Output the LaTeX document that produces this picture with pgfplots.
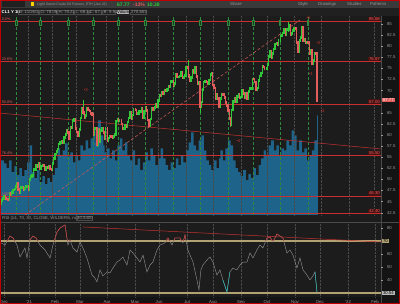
\documentclass[border=0pt]{standalone}
\usepackage{pgfplots}
\pgfplotsset{compat=1.18}
\usepackage{pgfplotstable}
\usepackage{fontspec}
\setmainfont{Liberation Sans}
\definecolor{bgall}{HTML}{141414}
\definecolor{panel}{HTML}{1C1C1C}
\definecolor{toolbar}{HTML}{3A3A3A}
\definecolor{rowtwo}{HTML}{202020}
\definecolor{volblue}{HTML}{1E6389}
\definecolor{upgreen}{HTML}{30C838}
\definecolor{dnred}{HTML}{E35D5D}
\definecolor{lvlred}{HTML}{C83030}
\definecolor{tickgrey}{HTML}{9A9A9A}
\definecolor{rsigrey}{HTML}{8C8C8C}
\definecolor{band}{HTML}{B0A272}
\definecolor{rsiteal}{HTML}{22B5B5}
\definecolor{evgreen}{HTML}{2E8B3E}
\definecolor{gridgrey}{HTML}{4A4A4A}
\newcommand\tf{\fontsize{4.3}{5}\selectfont}

\pgfplotstableread{
i o c
0 44.30 44.55
1 44.55 45.28
2 45.28 45.64
3 45.64 46.26
7 45.52 46.78
9 46.57 46.99
10 46.99 47.62
11 47.62 47.82
12 47.82 48.36
13 48.36 49.10
16 47.02 48.12
17 48.12 48.23
19 47.62 48.00
20 48.00 48.40
21 48.40 48.52
23 47.62 49.93
24 49.93 50.63
25 50.63 50.83
26 50.83 52.24
27 52.24 52.25
28 52.25 53.21
30 52.91 53.57
32 52.36 52.98
33 52.98 53.24
36 52.27 52.77
38 52.61 52.85
41 52.20 53.55
42 53.55 54.76
43 54.76 55.69
44 55.69 56.23
45 56.23 56.85
46 56.85 57.97
47 57.97 58.36
48 58.36 58.68
50 58.24 59.47
51 59.47 60.05
52 60.05 61.14
55 59.24 61.70
57 61.67 63.22
58 63.22 63.53
62 59.75 61.28
63 61.28 63.83
64 63.83 66.09
67 64.01 64.44
68 64.44 66.02
74 60.00 61.42
75 61.42 61.55
77 57.76 61.18
79 58.56 60.97
80 60.97 61.56
83 59.16 61.45
85 58.65 59.33
86 59.33 59.77
89 59.32 59.70
90 59.70 60.18
91 60.18 63.15
92 63.15 63.46
94 63.13 63.38
97 61.35 61.43
98 61.43 62.14
100 61.91 62.94
101 62.94 63.86
102 63.86 65.01
104 63.58 64.49
105 64.49 65.69
108 64.71 64.90
109 64.90 65.28
110 65.28 65.28
111 65.28 66.08
113 63.82 65.37
114 65.37 66.27
118 62.05 63.58
119 63.58 66.05
121 65.76 66.21
122 66.21 66.85
124 66.32 67.72
125 67.72 68.83
127 68.81 69.62
129 69.23 70.05
131 69.96 70.29
132 70.29 70.91
134 70.88 72.12
135 72.12 72.15
137 71.04 71.64
138 71.64 73.66
140 73.06 73.08
141 73.08 73.30
142 73.30 74.05
144 72.91 72.98
145 72.98 73.47
146 73.47 75.23
150 72.20 72.94
151 72.94 74.56
153 74.10 75.25
156 71.65 71.81
158 66.42 67.42
159 67.42 70.30
160 70.30 71.91
161 71.91 72.07
164 71.65 72.39
165 72.39 73.62
166 73.62 73.95
170 68.15 69.09
173 66.48 68.29
174 68.29 69.25
182 62.32 65.64
183 65.64 67.54
184 67.54 68.36
186 67.42 68.74
187 68.74 69.21
189 68.50 68.59
190 68.59 69.99
193 68.35 69.30
195 68.14 69.72
196 69.72 70.45
197 70.45 70.46
198 70.46 72.61
202 70.29 70.56
203 70.56 72.23
204 72.23 73.30
205 73.30 73.98
206 73.98 75.45
209 74.83 75.03
210 75.03 75.88
211 75.88 77.62
212 77.62 78.93
214 77.43 78.30
215 78.30 79.35
216 79.35 80.52
217 80.52 80.64
219 80.44 81.31
220 81.31 82.28
221 82.28 82.44
222 82.44 82.96
223 82.96 83.87
225 82.50 83.76
226 83.76 83.76
227 83.76 84.65
229 82.66 82.81
230 82.81 83.57
231 83.57 84.05
235 78.81 81.27
236 81.27 81.93
237 81.93 84.15
239 81.34 81.59
241 80.79 80.88
244 78.36 79.01
246 76.10 76.75
247 76.75 78.50
}\uptab

\pgfplotstableread{
i o c
4 46.26 45.76
5 45.76 45.60
6 45.60 45.52
8 46.78 46.57
14 49.10 47.74
15 47.74 47.02
18 48.23 47.62
22 48.52 47.62
29 53.21 52.91
31 53.57 52.36
34 53.24 53.13
35 53.13 52.27
37 52.77 52.61
39 52.85 52.34
40 52.34 52.20
49 58.68 58.24
53 61.14 60.52
54 60.52 59.24
56 61.70 61.67
59 63.53 61.50
60 61.50 60.64
61 60.64 59.75
65 66.09 65.05
66 65.05 64.01
69 66.02 65.61
70 65.61 65.39
71 65.39 64.80
72 64.80 64.60
73 64.60 60.00
76 61.55 57.76
78 61.18 58.56
81 61.56 60.55
82 60.55 59.16
84 61.45 58.65
87 59.77 59.60
88 59.60 59.32
93 63.46 63.13
95 63.38 62.44
96 62.44 61.35
99 62.14 61.91
103 65.01 63.58
106 65.69 65.63
107 65.63 64.71
112 66.08 63.82
115 66.27 65.49
116 65.49 63.36
117 63.36 62.05
120 66.05 65.76
123 66.85 66.32
126 68.83 68.81
128 69.62 69.23
130 70.05 69.96
133 70.91 70.88
136 72.15 71.04
139 73.66 73.06
143 74.05 72.91
147 75.23 75.16
148 75.16 73.37
149 73.37 72.20
152 74.56 74.10
154 75.25 73.13
155 73.13 71.65
157 71.81 66.42
162 72.07 71.91
163 71.91 71.65
167 73.95 71.26
168 71.26 70.56
169 70.56 68.15
171 69.09 68.28
172 68.28 66.48
175 69.25 69.09
176 69.09 68.44
177 68.44 67.29
178 67.29 66.59
179 66.59 65.46
180 65.46 63.69
181 63.69 62.32
185 68.36 67.42
188 69.21 68.50
191 69.99 69.29
192 69.29 68.35
194 69.30 68.14
199 72.61 72.61
200 72.61 71.97
201 71.97 70.29
207 75.45 75.29
208 75.29 74.83
213 78.93 77.43
218 80.64 80.44
224 83.87 82.50
228 84.65 82.66
232 84.05 83.91
233 83.91 80.86
234 80.86 78.81
238 84.15 81.34
240 81.59 80.79
242 80.88 80.76
243 80.76 78.36
245 79.01 76.10
248 78.50 78.39
249 78.39 67.77
}\dntab

\pgfplotstableread{
i l h
65 64.50 67.98
76 57.30 61.60
148 72.90 76.98
157 65.01 71.90
181 61.74 63.90
226 83.20 85.41
249 67.40 78.40
}\wicktab

\pgfplotstableread{
x v
0 275
3 260
5 235
7 275
9 215
11 245
13 200
15 235
17 195
19 225
21 265
23 350
25 215
27 185
29 225
31 165
33 195
35 155
37 185
39 165
41 200
43 235
45 335
47 300
49 325
51 360
53 295
55 315
57 265
59 300
61 275
63 350
65 325
67 375
69 335
71 385
73 425
75 365
77 475
79 400
81 350
82 315
84 335
86 285
88 325
90 275
92 350
94 385
96 325
98 365
100 300
102 275
104 325
106 250
108 285
110 225
112 265
114 315
116 275
118 335
120 300
122 250
124 285
126 335
128 285
130 250
132 225
134 265
136 235
138 285
140 250
142 300
144 265
146 325
148 365
150 415
152 350
154 325
156 375
158 400
160 325
162 275
164 250
166 225
168 275
170 235
172 285
173 325
175 275
177 335
179 375
181 350
183 275
185 235
187 215
189 195
191 225
193 175
195 205
197 185
199 235
201 200
203 250
205 285
207 325
209 300
211 350
213 375
215 325
217 350
219 300
221 335
223 325
225 375
227 350
229 425
231 400
233 325
235 375
237 315
239 335
241 275
243 300
245 325
247 375
249 500
249.7 500
}\voltab

\pgfplotstableread{
x r
0.5 68.5
3.7 66.9
7.6 73.8
10 72.3
13.1 66.9
15.5 57.7
19.4 64.6
21 56.9
23.3 70.8
25.7 73.8
28.1 72.3
31.2 66.9
35.1 63.1
39.1 56.9
41.4 66.9
44.6 76.9
47 80
50.9 82.3
53.2 66.9
54.8 70.8
57.1 64.6
60.3 61.5
62.6 69.2
65 64.6
68.1 56.9
72.1 43.8
74.4 41.5
76 38.5
78.4 47.7
80.7 43.1
83.9 46.2
86.2 45.4
88.6 49.2
91.7 53.8
94.1 55.4
96.4 57.7
99.6 51.5
102 63.1
104.3 60.8
107.4 56.9
109.8 53.8
112.2 59.2
115.3 46.2
117.7 51.5
120 53.8
123.2 63.1
125.5 66.9
129.4 68.5
131.8 72.3
135 66.9
137.3 72.3
141.2 72.3
143.6 68.5
145.2 74.6
147.5 63.1
149.1 59.2
151.5 53.8
154.6 40
156.2 32.3
157.7 47.7
159.3 51.5
162.5 55.4
164.8 57.7
167.2 53.8
170.3 43.8
172.7 47.7
175 40
178.2 30.8
180.5 46.2
182.9 49.2
186 47.7
188.4 51.5
190.8 53.8
193.9 53.8
196.3 60.8
198.6 56.9
201.8 63.1
204.1 66.9
206.5 64.6
209.6 72.3
212 73.1
214.3 69.2
217.5 75.4
219.8 73.8
222.2 72.3
225.3 60.8
227.7 63.1
230.1 59.2
233.2 49.2
235.6 56.9
238 47.7
241.1 43.8
243.4 40
245.8 43.1
247.4 46.2
249 30.54
}\rsitab

\begin{document}
\begin{tikzpicture}
\begin{scope}[x=1pt,y=1pt]
% window background
\fill[bgall] (0,0) rectangle (400,304);
\fill[toolbar] (0,295.5) rectangle (400,304);
\fill[rowtwo] (0,288) rectangle (400,295.5);
\fill[panel] (1,89) rectangle (381,288);
\fill[panel] (1,7) rectangle (381,89);
\fill[bgall] (381,1) rectangle (399,288);
\draw[gridgrey, line width=0.4pt] (1,82) -- (399,82);
\draw[gridgrey, line width=0.4pt] (381,1) -- (381,288);
% toolbar text
\fill[rowtwo] (1.5,297) rectangle (25,302.5);
\fill[yellow!70!orange] (31,297.5) rectangle (34,302);
\node[anchor=west, inner sep=0, font=\fontsize{3.5}{4}\selectfont, text=tickgrey] at (37,299.7) {Light Sweet Crude Oil Futures, ETH (Jan 22)};
\node[anchor=west, inner sep=0, font=\fontsize{5}{6}\selectfont\bfseries, text=upgreen] at (117,299.7) {67.77};
\node[anchor=west, inner sep=0, font=\fontsize{5}{6}\selectfont\bfseries, text=dnred] at (133,299.7) {-13\%};
\node[anchor=west, inner sep=0, font=\fontsize{5}{6}\selectfont\bfseries, text=upgreen] at (147,299.7) {10.38};
\node[anchor=west, inner sep=0, font=\tf, text=tickgrey] at (230,299.7) {Share};
\node[anchor=west, inner sep=0, font=\tf, text=tickgrey] at (298,299.7) {Style};
\node[anchor=west, inner sep=0, font=\tf, text=tickgrey] at (318,299.7) {Drawings};
\node[anchor=west, inner sep=0, font=\tf, text=tickgrey] at (347,299.7) {Studies};
\node[anchor=west, inner sep=0, font=\tf, text=tickgrey] at (370,299.7) {Patterns};
% second row
\node[anchor=west, inner sep=0, font=\tf\bfseries, text=white] at (1.5,291.7) {CL1 Y 1D};
\foreach \xa/\xb/\t in {18/38/{D: 11/26/21},39.5/56/{O: 78.09},57.5/73/{H: 78.22},74.5/87/{L: 68.31},88.5/101/{C: 67.77},102.5/115/{R: 9.91},130/146/{270,653}}{
  \draw[gridgrey, line width=0.3pt] (\xa,289.5) rectangle (\xb,294);
  \node[anchor=west, inner sep=0, font=\tf, text=tickgrey] at (\xa+1,291.7) {\t};
}
\fill[tickgrey!80] (116.5,289.5) rectangle (129,294);
\node[anchor=west, inner sep=0, font=\tf, text=black] at (117,291.7) {Volume};
\end{scope}

% volume
\begin{axis}[at={(1pt,89pt)}, anchor=south west, scale only axis, width=380pt, height=199pt,
  xmin=0.55, xmax=299.3, ymin=0, ymax=1000, hide axis]
\addplot[fill=volblue, draw=none, const plot] table[x=x, y=v] {\voltab} \closedcycle;
\end{axis}

% price
\begin{axis}[at={(1pt,89pt)}, anchor=south west, scale only axis, width=380pt, height=199pt,
  xmin=0.55, xmax=299.3, ymin=41.98, ymax=86.80,
  axis line style={draw=none},
  xtick={0.3,22,41,60,83,104,124,146,167,189,210,231,252,274,294}, xticklabels={},
  xtick style={draw=none},
  xmajorgrids, x grid style={gridgrey, densely dotted, line width=0.3pt},
  ytick={42.5,45,47.5,50,52.5,55,57.5,60,62.5,65,70,72.5,75,77.5,80,82.5,85},
  ytick pos=right, yticklabel pos=right,
  yticklabel style={font=\tf, text=tickgrey, xshift=0.5pt},
  ytick style={draw=tickgrey, line width=0.3pt}, major tick length=2pt, tick align=outside,
  /pgf/number format/assume math mode=true]
% green event lines
\addplot[evgreen, densely dashed, line width=0.5pt, ycomb] coordinates {(12.3,86.8) (31.2,86.8) (53.2,86.8) (72.9,86.8) (92.5,86.8) (113.7,86.8) (135.7,86.8) (157,86.8) (179,86.8) (198.6,86.8) (219.8,86.8) (241.8,86.8)};
\addplot[only marks, mark=square*, mark size=1.4pt, mark options={xscale=0.55, yscale=1.5, fill=evgreen!45!black, draw=evgreen, line width=0.3pt}] coordinates {(12.3,85.3) (31.2,85.3) (53.2,85.3) (72.9,85.3) (92.5,85.3) (113.7,85.3) (135.7,85.3) (157,85.3) (179,85.3) (198.6,85.3) (219.8,85.3) (241.8,85.3)};
% level lines
\addplot[lvlred, line width=0.6pt] coordinates {(0,85.68) (300,85.68)};
\addplot[lvlred, line width=0.6pt] coordinates {(0,76.67) (300,76.67)};
\addplot[lvlred, line width=0.6pt] coordinates {(0,67.00) (300,67.00)};
\addplot[lvlred, line width=0.6pt] coordinates {(0,55.50) (300,55.50)};
\addplot[lvlred, line width=0.6pt] coordinates {(0,46.30) (300,46.30)};
\addplot[lvlred, line width=0.6pt] coordinates {(0,42.40) (300,42.40)};
% trend lines
\addplot[lvlred, line width=0.5pt] coordinates {(0,64.93) (299.3,56.85)};
\addplot[lvlred!80!white, densely dashed, line width=0.5pt] coordinates {(19.5,41.98) (235.6,85.9)};
% candles
\addplot[upgreen, line width=0.35pt, quiver={u=0, v=\thisrow{h}-\thisrow{l}}] table[x=i, y=l] {\wicktab};
\addplot[upgreen, line width=1.25pt, quiver={u=0, v=\thisrow{c}-\thisrow{o}+0.6}] table[x=i, y expr=\thisrow{o}-0.3] {\uptab};
\addplot[dnred, line width=1.25pt, quiver={u=0, v=\thisrow{o}-\thisrow{c}+0.6}] table[x=i, y expr=\thisrow{c}-0.3] {\dntab};
% wave labels
\node[font=\tf, text=lvlred, anchor=west] at (axis cs:63,70.1) {\textbullet3};
\node[font=\tf, text=lvlred, anchor=west] at (axis cs:183,58.6) {\textbullet4};
\node[font=\tf, text=lvlred, anchor=west] at (axis cs:238,86.3) {\textbullet5};
\node[font=\tf, text=lvlred, anchor=west] at (axis cs:246,80.7) {\textbullet2};
\node[font=\tf, text=lvlred, anchor=west] at (axis cs:240,73.7) {\textbullet1};
\node[font=\tf, text=lvlred, anchor=west] at (axis cs:249,65.4) {\textbullet3};
% fib labels at left
\node[font=\fontsize{3.8}{4}\selectfont, text=dnred, inner sep=0.5pt, anchor=south west] at (axis cs:0.6,85.68) {0.0\%};
\node[font=\fontsize{3.8}{4}\selectfont, text=dnred, inner sep=0.5pt, anchor=south west] at (axis cs:0.6,76.67) {23.6\%};
\node[font=\fontsize{3.8}{4}\selectfont, text=dnred, inner sep=0.5pt, anchor=south west] at (axis cs:0.6,67.00) {50.0\%};
\node[font=\fontsize{3.8}{4}\selectfont, text=dnred, inner sep=0.5pt, anchor=south west] at (axis cs:0.6,55.50) {76.4\%};
\node[font=\fontsize{3.8}{4}\selectfont, text=dnred, inner sep=0.5pt, anchor=south west] at (axis cs:0.6,46.30) {100\%};
% price level tags
\node[font=\tf, text=dnred, fill=lvlred!35!black, inner sep=0.6pt, anchor=south east] at (axis cs:299,85.68) {85.68};
\node[font=\tf, text=dnred, fill=lvlred!35!black, inner sep=0.6pt, anchor=south east] at (axis cs:299,76.67) {76.67};
\node[font=\tf, text=dnred, fill=lvlred!35!black, inner sep=0.6pt, anchor=south east] at (axis cs:299,67.00) {67.00};
\node[font=\tf, text=dnred, fill=lvlred!35!black, inner sep=0.6pt, anchor=south east] at (axis cs:299,55.50) {55.50};
\node[font=\tf, text=dnred, fill=lvlred!35!black, inner sep=0.6pt, anchor=south east] at (axis cs:299,46.30) {46.30};
\node[font=\tf, text=dnred, fill=lvlred!35!black, inner sep=0.6pt, anchor=south east] at (axis cs:299,42.40) {42.40};
\end{axis}

% RSI
\begin{axis}[at={(1pt,7pt)}, anchor=south west, scale only axis, width=380pt, height=75pt,
  xmin=0.55, xmax=299.3, ymin=26.9, ymax=84.6,
  axis line style={draw=none},
  xtick={2.9,22.6,43,62.7,83.9,105.9,124.8,146.8,167.2,189.2,209.7,231.7,251.3,273.4,294.6},
  xticklabels={Dec,'21,Feb,Mar,Apr,May,Jun,Jul,Aug,Sep,Oct,Nov,Dec,'22,Feb},
  xtick pos=lower, xtick style={draw=none},
  xticklabel style={font=\tf, text=tickgrey, anchor=north, inner sep=0pt, yshift=-1.2pt},
  xmajorgrids, x grid style={gridgrey, densely dotted, line width=0.3pt},
  ytick={40,50,60,80}, ytick pos=right, yticklabel pos=right,
  yticklabel style={font=\tf, text=tickgrey, xshift=0.5pt},
  ytick style={draw=tickgrey, line width=0.3pt}, major tick length=2pt, tick align=outside,
  /pgf/number format/assume math mode=true]
\addplot[band, line width=1.5pt] coordinates {(0,70) (300,70)};
\addplot[band, line width=1.5pt] coordinates {(0,30) (300,30)};
\addplot[lvlred, line width=0.5pt] coordinates {(65,80.8) (299.3,69.2)};
\addplot[rsigrey, line width=0.45pt] table[x=x, y=r] {\rsitab};
\addplot[rsiteal, line width=0.5pt] coordinates {(175,40) (178.2,30.8) (180.5,46.2)};
\addplot[rsiteal, line width=0.5pt] coordinates {(247.4,46.2) (249,30.54)};
\end{axis}
% RSI overbought overlay (red where above 70)
\begin{axis}[at={(1pt,63pt)}, anchor=south west, scale only axis, width=380pt, height=19pt,
  xmin=0.55, xmax=299.3, ymin=70, ymax=84.6, hide axis]
\addplot[lvlred, line width=0.5pt] table[x=x, y=r] {\rsitab};
\end{axis}

\begin{scope}[x=1pt,y=1pt]
\node[fill=dnred, text=white, font=\tf, inner sep=0.8pt, anchor=west] at (382,204) {67.77};
\node[font=\tf, text=tickgrey, anchor=west, inner sep=0] at (2,85.6) {RSI (14, 70, 30, CLOSE, WILDERS, no)};
\draw[gridgrey, line width=0.3pt] (76,83.6) rectangle (92,87.6);
\node[font=\tf, text=tickgrey, anchor=west, inner sep=0] at (77,85.6) {30.5400};
\node[fill=band, text=black, font=\tf, inner sep=0.8pt, anchor=west] at (382,63) {70};
\node[fill=tickgrey!70, text=black, font=\tf, inner sep=0.8pt, anchor=west] at (382,11) {30.54};
\draw[red!75!black, line width=1pt] (0.5,0.5) rectangle (399.5,303.5);
\end{scope}
\pgfresetboundingbox
\path (0pt,0pt) rectangle (400pt,304pt);
\end{tikzpicture}
\end{document}
